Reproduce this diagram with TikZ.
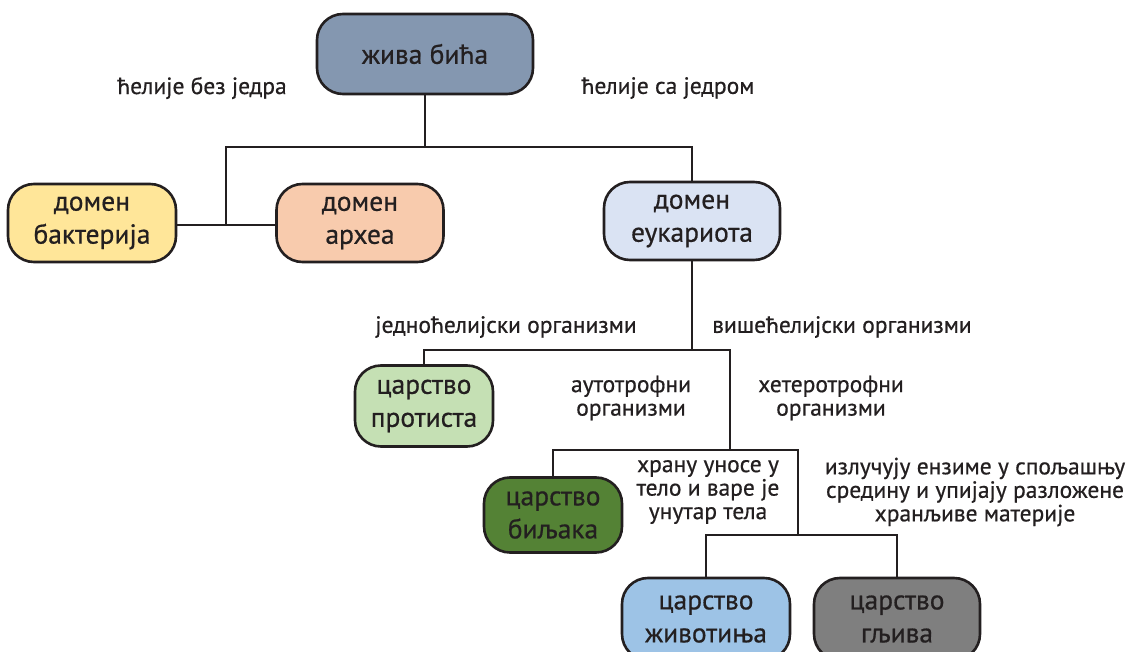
\documentclass[tikz,border=0pt]{standalone}
\usepackage{fontspec}
\setmainfont{PT Sans}[BoldFont=PT Sans, BoldFeatures={FakeBold=0.6}]
\definecolor{ink}{HTML}{231F20}
\definecolor{cTop}{HTML}{8497B0}
\definecolor{cBac}{HTML}{FFE699}
\definecolor{cArc}{HTML}{F8CBAD}
\definecolor{cEuk}{HTML}{DAE3F3}
\definecolor{cPro}{HTML}{C5E0B4}
\definecolor{cPla}{HTML}{548235}
\definecolor{cAni}{HTML}{9DC3E6}
\definecolor{cFun}{HTML}{7F7F7F}
\tikzset{
  box/.style={draw=ink, line width=2.6pt, rounded corners=26pt, align=center,
    text=ink, inner sep=0pt, font=\bfseries\fontsize{27.5}{33}\selectfont},
  lbl/.style={text=ink, align=center, inner sep=0pt, font=\bfseries\fontsize{23.5}{23.5}\selectfont},
  conn/.style={draw=ink, line width=2.6pt}
}
\begin{document}
\begin{tikzpicture}[x=1pt,y=-1pt]
\useasboundingbox (0,0) rectangle (1130,652);
\clip (0,0) rectangle (1130,652);
\fill[white] (0,0) rectangle (1130,652);
% nodes
\node[box, fill=cTop, minimum width=216pt, minimum height=80pt] (top) at (425,54) {жива бића};
\node[box, fill=cBac, minimum width=168pt, minimum height=78pt] (bac) at (92,223) {домен\\бактерија};
\node[box, fill=cArc, minimum width=167pt, minimum height=78pt] (arc) at (360,223) {домен\\археа};
\node[box, fill=cEuk, minimum width=176pt, minimum height=78pt] (euk) at (692,221) {домен\\еукариота};
\node[box, fill=cPro, minimum width=138pt, minimum height=81pt] (pro) at (424,406) {царство\\протиста};
\node[box, fill=cPla, minimum width=138pt, minimum height=75pt] (pla) at (553,515) {царство\\биљака};
\node[box, fill=cAni, minimum width=168pt, minimum height=82pt] (ani) at (706,619) {царство\\животиња};
\node[box, fill=cFun, minimum width=166pt, minimum height=82pt] (fun) at (897,619) {царство\\гљива};
% labels
\node[lbl] (l1) at (202,88) {ћелије без једра};
\node[lbl] (l2) at (668,88) {ћелије са једром};
\node[lbl] (l3) at (506,327) {једноћелијски организми};
\node[lbl] (l4) at (842,327) {вишећелијски организми};
\node[lbl] (l5) at (631,398) {аутотрофни\\организми};
\node[lbl] (l6) at (831,398) {хетеротрофни\\организми};
\node[lbl] (l7) at (708,492) {храну уносе у\\тело и варе је\\унутар тела};
\node[lbl] (l8) at (975,492) {излучују ензиме у спољашњу\\средину и упијају разложене\\хранљиве материје};
% junctions
\coordinate (j1) at (425,147);
\coordinate (jb) at (226,225);
\coordinate (j3) at (730,350);
\coordinate (j4) at (730,450);
\coordinate (j5) at (798,450);
\coordinate (j6) at (798,535);
% connectors
\draw[conn] (top.south) -- (j1);
\draw[conn] (bac.east |- jb) -- (arc.west |- jb);
\draw[conn] (jb) -- (jb |- j1) -| (euk.north);
\draw[conn] (euk.south) -- (euk.south |- j3);
\draw[conn] (pro.north) |- (j3) -- (j4);
\draw[conn] (pla.north) |- (j5) -- (j6);
\draw[conn] (ani.north) -- (ani.north |- j6) -| (fun.north);
\end{tikzpicture}
\end{document}
